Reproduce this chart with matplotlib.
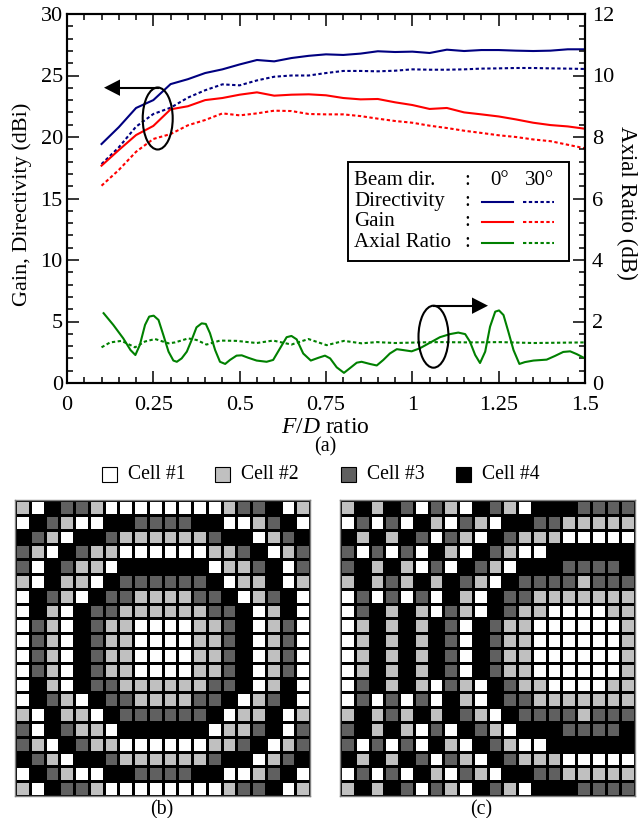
import numpy as np
import matplotlib
matplotlib.use('Agg')
import matplotlib.pyplot as plt
from matplotlib.colors import ListedColormap
from matplotlib.patches import Ellipse, Rectangle
from matplotlib.ticker import MultipleLocator

plt.rcParams['font.family'] = ['Liberation Serif', 'DejaVu Serif']
plt.rcParams['mathtext.fontset'] = 'custom'
plt.rcParams['mathtext.it'] = 'Liberation Serif:italic'
plt.rcParams['mathtext.rm'] = 'Liberation Serif'

W, H = 639, 818
FS = 16

# curves sampled every 0.05 in F/D
fd = [0.1 + 0.05 * i for i in range(29)]
directivity_0 = [19.43, 20.8, 22.36, 23.0, 24.3, 24.7, 25.2, 25.5, 25.9, 26.26, 26.15, 26.42, 26.6, 26.72,
                 26.67, 26.78, 26.97, 26.91, 26.94, 26.83, 27.1, 26.99, 27.07, 27.07, 27.02, 26.99, 27.02, 27.13, 27.13]
directivity_30 = [17.8, 19.16, 20.84, 21.87, 22.38, 23.2, 23.8, 24.28, 24.2, 24.6, 24.9, 25.0, 25.0, 25.2,
                  25.37, 25.37, 25.34, 25.39, 25.5, 25.47, 25.47, 25.5, 25.56, 25.58, 25.61, 25.61, 25.58, 25.56, 25.53]
gain_0 = [17.67, 18.94, 20.16, 20.9, 22.25, 22.5, 23.0, 23.17, 23.44, 23.63, 23.36, 23.44, 23.47, 23.39,
          23.17, 23.06, 23.09, 22.82, 22.6, 22.28, 22.36, 22.0, 21.84, 21.67, 21.43, 21.16, 20.97, 20.86, 20.67]
gain_30 = [16.04, 17.32, 18.8, 19.84, 20.24, 20.95, 21.38, 21.92, 21.76, 21.92, 22.14, 22.11, 21.87, 21.84,
           21.84, 21.7, 21.49, 21.3, 21.16, 20.92, 20.73, 20.51, 20.33, 20.14, 20.0, 19.8, 19.66, 19.37, 19.08]

# axial ratio wiggles, read at the turning points
ar_x_0 = [0.106, 0.134, 0.163, 0.184, 0.198, 0.211, 0.226, 0.238, 0.251, 0.265, 0.279, 0.294, 0.308, 0.318, 0.332,
          0.347, 0.361, 0.375, 0.390, 0.402, 0.414, 0.429, 0.443, 0.458, 0.472, 0.491, 0.506, 0.525, 0.549, 0.578,
          0.597, 0.617, 0.636, 0.650, 0.665, 0.684, 0.706, 0.728, 0.747, 0.762, 0.781, 0.802, 0.819, 0.839, 0.853,
          0.877, 0.897, 0.916, 0.935, 0.955, 0.974, 0.998, 1.022, 1.051, 1.080, 1.109, 1.133, 1.153, 1.167, 1.182,
          1.196, 1.211, 1.225, 1.240, 1.251, 1.264, 1.278, 1.293, 1.310, 1.326, 1.351, 1.389, 1.413, 1.437, 1.457,
          1.476, 1.500]
ar_0 = [2.27, 1.89, 1.45, 1.07, 0.91, 1.24, 1.89, 2.16, 2.19, 2.05, 1.56, 1.02, 0.73, 0.69, 0.80,
        1.02, 1.40, 1.81, 1.94, 1.92, 1.62, 1.07, 0.69, 0.62, 0.75, 0.89, 0.90, 0.82, 0.73, 0.69,
        0.75, 1.13, 1.49, 1.53, 1.42, 0.96, 0.73, 0.82, 0.89, 0.80, 0.51, 0.33, 0.48, 0.66, 0.69,
        0.62, 0.57, 0.75, 0.96, 1.10, 1.07, 1.03, 1.13, 1.31, 1.49, 1.59, 1.64, 1.59, 1.34, 0.91,
        0.65, 1.02, 1.83, 2.32, 2.36, 2.21, 1.67, 1.07, 0.62, 0.68, 0.73, 0.76, 0.88, 1.01, 1.03,
        0.94, 0.80]
ar_x_30 = [0.1, 0.125, 0.158, 0.197, 0.226, 0.255, 0.294, 0.313, 0.351, 0.375, 0.404, 0.443, 0.491, 0.549, 0.597,
           0.650, 0.699, 0.752, 0.802, 0.853, 0.897, 0.950, 1.022, 1.08, 1.167, 1.254, 1.351, 1.5]
ar_30 = [1.16, 1.32, 1.37, 1.16, 1.35, 1.43, 1.29, 1.32, 1.45, 1.40, 1.25, 1.38, 1.37, 1.30, 1.38,
         1.25, 1.43, 1.23, 1.37, 1.29, 1.33, 1.30, 1.32, 1.33, 1.32, 1.33, 1.30, 1.32]

# layouts, 1 white 2 light grey 3 dark grey 4 black
layout_b = ["2 1 4 3 3 2 1 1 1 1 1 1 1 1 2 3 3 4 1 2",
            "1 4 3 2 1 1 4 4 3 3 3 3 4 4 1 1 2 3 4 1",
            "4 3 2 1 4 4 3 2 2 2 2 2 2 3 4 4 1 2 3 4",
            "3 2 1 4 3 2 2 1 1 1 1 1 1 2 2 3 4 1 2 3",
            "3 1 4 3 2 2 1 4 4 4 4 4 4 1 2 2 3 4 1 3",
            "2 1 4 2 2 1 4 3 3 3 3 3 3 4 1 2 2 4 1 2",
            "1 4 3 2 1 4 3 3 2 2 2 2 3 3 4 1 2 3 4 1",
            "1 4 2 1 4 3 3 2 2 2 2 2 2 3 3 4 1 2 4 1",
            "1 3 2 1 4 3 2 2 1 1 1 1 2 2 3 4 1 2 3 1",
            "1 3 2 1 4 3 2 2 1 1 1 1 2 2 3 4 1 2 3 1"]
layout_c = ["2 4 2 4 3 1 3 2 1 4 3 2 1 4 4 4 3 3 3 3",
            "1 3 1 3 1 4 2 1 3 2 1 4 4 3 3 2 2 2 2 2",
            "4 2 4 2 4 3 1 3 2 1 4 3 2 2 2 1 1 1 1 1",
            "3 1 3 1 3 1 4 2 1 4 3 2 1 1 4 4 4 4 4 4",
            "3 4 2 4 2 1 3 1 4 3 2 1 4 4 4 3 3 3 3 4",
            "2 4 2 3 2 4 2 4 3 2 1 4 3 3 3 3 2 3 3 3",
            "1 3 1 3 1 3 1 4 2 1 4 3 3 2 2 2 2 2 2 2",
            "1 3 4 2 4 2 1 3 2 1 4 3 2 2 1 1 1 1 2 2",
            "1 2 4 2 4 2 4 3 1 4 3 2 2 1 1 1 1 1 1 2",
            "1 2 4 2 4 2 4 3 1 4 3 2 2 1 1 1 1 1 1 2"]
cell_labels = ['Cell #1', 'Cell #2', 'Cell #3', 'Cell #4']
cell_colors = ['#ffffff', '#c0c0c0', '#606060', '#000000']

NAVY, RED, GREEN = '#000080', '#ff0000', '#008000'
DASH = (0, (1.6, 1.2))
LW = 1.5


def px_axes(fig, left, top, right, bottom):
    return fig.add_axes([left / W, 1 - bottom / H, (right - left) / W, (bottom - top) / H])


def draw_layout(fig, rows, left, right):
    # the lower half mirrors the upper half
    grid = np.array([[int(v) for v in r.split()] for r in rows + rows[::-1]])
    ax = px_axes(fig, left, 500, right, 796)
    ax.pcolormesh(grid[::-1], cmap=ListedColormap(cell_colors), vmin=0.5, vmax=4.5,
                  edgecolors='black', linewidth=0.9)
    ax.set_xticks([])
    ax.set_yticks([])
    for s in ax.spines.values():
        s.set_linewidth(1.0)
        s.set_color('#808080')


fig = plt.figure(figsize=(W / 100, H / 100), dpi=100)

ax = px_axes(fig, 67, 14, 585, 383)
ax.plot(fd, directivity_0, color=NAVY, lw=LW)
ax.plot(fd, directivity_30, color=NAVY, lw=LW, ls=DASH)
ax.plot(fd, gain_0, color=RED, lw=LW)
ax.plot(fd, gain_30, color=RED, lw=LW, ls=DASH)
ax.set_xlim(0, 1.5)
ax.set_ylim(0, 30)
ax.set_xticks([0, 0.25, 0.5, 0.75, 1, 1.25, 1.5])
ax.set_xticklabels(['0', '0.25', '0.5', '0.75', '1', '1.25', '1.5'])
ax.xaxis.set_minor_locator(MultipleLocator(0.05))
ax.yaxis.set_major_locator(MultipleLocator(5))
ax.yaxis.set_minor_locator(MultipleLocator(1))
ax.tick_params(which='major', direction='in', length=8.5, width=1.1, top=True, labelsize=FS)
ax.tick_params(axis='x', which='major', pad=9.5)
ax.tick_params(axis='y', which='major', pad=3)
ax.tick_params(which='minor', direction='in', length=4.5, width=1.1, top=True)

ax2 = ax.twinx()
ax2.plot(ar_x_0, ar_0, color=GREEN, lw=LW)
ax2.plot(ar_x_30, ar_30, color=GREEN, lw=LW, ls=DASH)
ax2.set_ylim(0, 12)
ax2.yaxis.set_major_locator(MultipleLocator(2))
ax2.yaxis.set_minor_locator(MultipleLocator(0.4))
ax2.tick_params(which='major', direction='in', length=8.5, width=1.1, labelsize=FS, pad=5)
ax2.tick_params(which='minor', direction='in', length=4.5, width=1.1)
for a in (ax, ax2):
    for s in a.spines.values():
        s.set_linewidth(1.5)

draw_layout(fig, layout_b, 15, 310)
draw_layout(fig, layout_c, 340, 635)

# overlay in pixel units for the annotations and hand built legends
ov = fig.add_axes([0, 0, 1, 1], facecolor='none')
ov.set_xlim(0, W)
ov.set_ylim(H, 0)
ov.axis('off')

ov.text(22, 204, 'Gain, Directivity (dBi)', fontsize=FS, rotation=90, ha='center', va='center')
ov.text(627, 203, 'Axial Ratio (dB)', fontsize=16.5, rotation=-90, ha='center', va='center')
ov.text(325, 433, r'$F/D$ ratio', fontsize=17, ha='center', va='baseline')
ov.text(325, 451, '(a)', fontsize=14.5, ha='center', va='baseline')
ov.text(162, 814, '(b)', fontsize=14.4, ha='center', va='baseline')
ov.text(481, 814, '(c)', fontsize=14.4, ha='center', va='baseline')

for cx, cy in [(157.7, 118.5), (433.5, 336.7)]:
    ov.add_patch(Ellipse((cx, cy), 30, 62, fill=False, ec='black', lw=1.5))
# shafts with triangular heads
ov.plot([157.7, 115], [87.7, 87.7], color='black', lw=1.5)
ov.fill([104, 120, 120], [87.7, 79.5, 95.9], color='black', lw=0)
ov.plot([433.5, 475], [305.7, 305.7], color='black', lw=1.5)
ov.fill([488, 472, 472], [305.7, 297.5, 313.9], color='black', lw=0)

# line legend
ov.add_patch(Rectangle((348, 162), 221, 98.5, fill=True, fc='white', ec='black', lw=1.4, zorder=3))
rows = [('Beam dir.', 185, None), ('Directivity', 206, NAVY), ('Gain', 226, RED), ('Axial Ratio', 247, GREEN)]
for name, base, color in rows:
    ov.text(354, base, name, fontsize=15, va='baseline', zorder=4)
    ov.text(467, base, ':', fontsize=15, ha='center', va='baseline', zorder=4)
    if color:
        ov.plot([482, 513], [base - 4, base - 4], color=color, lw=LW, zorder=4)
        ov.plot([523, 554], [base - 4, base - 4], color=color, lw=LW, ls=DASH, zorder=4)
ov.text(500, 185, '0°', fontsize=15, ha='center', va='baseline', zorder=4)
ov.text(540, 185, '30°', fontsize=15, ha='center', va='baseline', zorder=4)

# cell legend
for name, color, sq, tx in zip(cell_labels, cell_colors, [102, 215, 341, 456], [128, 241, 367, 482]):
    ov.add_patch(Rectangle((sq, 467), 15, 15, fc=color, ec='black', lw=0.8))
    ov.text(tx, 479, name, fontsize=14.2, va='baseline')

fig.savefig('out.png', dpi=100)
